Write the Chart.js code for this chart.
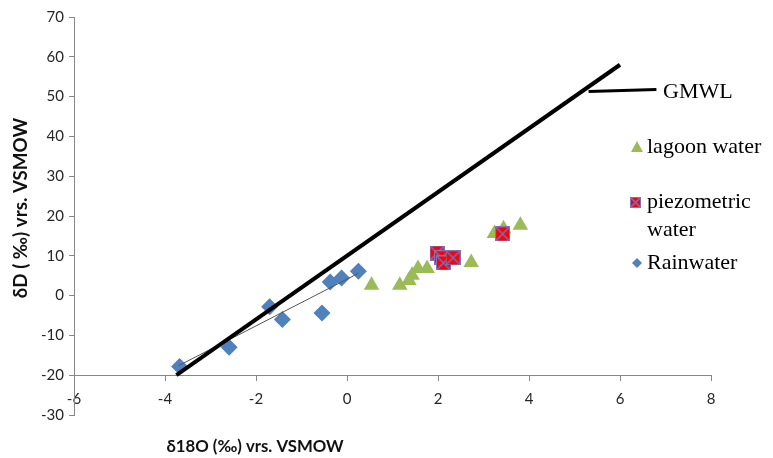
<!DOCTYPE html>
<html>
<head>
<meta charset="utf-8">
<script src="https://cdn.jsdelivr.net/npm/chart.js@4/dist/chart.umd.min.js"></script>
<style>
html,body{margin:0;padding:0;background:#fff;}
#wrap{position:relative;width:773px;height:458px;}
</style>
</head>
<body>
<div id="wrap"><canvas id="c" width="773" height="458"></canvas></div>
<script>
// ---- data ----
const gmwlX = [-3.75, 6];
const gmwlY = [-20, 58];
const gmwlLeaderX = [5.31, 6.80];
const gmwlLeaderY = [51.3, 51.8];
const rainTrendX = [-3.7, 0.25];
const rainTrendY = [-17.6, 5.6];
const lagoonX = [0.54, 1.16, 1.36, 1.43, 1.56, 1.76, 2.73, 3.24, 3.44, 3.81];
const lagoonY = [2.6, 2.6, 3.8, 5.1, 6.8, 6.8, 8.3, 15.6, 16.8, 17.7];
const piezoX = [1.98, 2.08, 2.12, 2.33, 3.42];
const piezoY = [10.7, 9.5, 8.2, 9.5, 15.5];
const rainX = [-3.68, -2.59, -1.70, -1.42, -0.55, -0.37, -0.12, 0.25];
const rainY = [-17.8, -13.0, -2.8, -6.0, -4.4, 3.4, 4.4, 6.1];
const xTicks = [-6, -4, -2, 0, 2, 4, 6, 8];
const yTicks = [-30, -20, -10, 0, 10, 20, 30, 40, 50, 60, 70];
const legendLabels = ['GMWL', 'lagoon water', 'piezometric', 'water', 'Rainwater'];
const xTitle = 'δ18O (‰) vrs. VSMOW';
const yTitle = 'δD ( ‰) vrs. VSMOW';

const pts = (xs, ys) => xs.map((x, i) => ({x: x, y: ys[i]}));

function squareMarker(size) {
  const c = document.createElement('canvas');
  c.width = size; c.height = size;
  const g = c.getContext('2d');
  g.fillStyle = '#FF0000';
  g.fillRect(0, 0, size, size);
  g.strokeStyle = '#8A6FB5';
  g.lineWidth = 1;
  g.strokeRect(0.5, 0.5, size - 1, size - 1);
  g.strokeStyle = '#6C72C4';
  g.lineWidth = 1.6;
  g.beginPath();
  g.moveTo(1, 1); g.lineTo(size - 1, size - 1);
  g.moveTo(size - 1, 1); g.lineTo(1, size - 1);
  g.stroke();
  return c;
}
const sqBig = squareMarker(15);
const sqSmall = squareMarker(11);

const axisFont = {family: 'Lato, "Liberation Sans", sans-serif', size: 15};
const gray = '#868686';

function fitFont(ctx, text, width) {
  let s = 14;
  for (; s < 20; s += 0.25) {
    ctx.font = 'bold ' + s + 'px Lato, "Liberation Sans", sans-serif';
    if (ctx.measureText(text).width >= width) break;
  }
  return ctx.font;
}

const overlay = {
  id: 'overlay',
  afterDraw(chart) {
    const ctx = chart.ctx;
    ctx.save();
    ctx.fillStyle = '#111';
    ctx.textAlign = 'center';
    ctx.textBaseline = 'middle';
    ctx.font = fitFont(ctx, xTitle, 176);
    ctx.fillText(xTitle, 255, 447);
    ctx.save();
    ctx.translate(21, 208);
    ctx.rotate(-Math.PI / 2);
    ctx.font = fitFont(ctx, yTitle, 178);
    ctx.fillText(yTitle, 0, 0);
    ctx.restore();

    // legend
    ctx.fillStyle = '#000';
    ctx.font = '22px "Liberation Serif", "Times New Roman", serif';
    ctx.textAlign = 'left';
    ctx.textBaseline = 'middle';
    ctx.fillText(legendLabels[0], 663, 92);
    ctx.fillText(legendLabels[1], 647, 147);
    ctx.fillText(legendLabels[2], 647, 202);
    ctx.fillText(legendLabels[3], 647, 230);
    ctx.fillText(legendLabels[4], 647, 263);
    ctx.fillStyle = '#9BBB59';
    ctx.beginPath();
    ctx.moveTo(637, 141); ctx.lineTo(643, 152); ctx.lineTo(631, 152); ctx.closePath();
    ctx.fill();
    ctx.drawImage(sqSmall, 630, 197);
    ctx.fillStyle = '#4F81BD';
    ctx.beginPath();
    ctx.moveTo(637, 258); ctx.lineTo(642, 263); ctx.lineTo(637, 268); ctx.lineTo(632, 263); ctx.closePath();
    ctx.fill();
    ctx.restore();
  }
};

new Chart(document.getElementById('c'), {
  type: 'scatter',
  data: {
    datasets: [
      {label: 'GMWL', data: pts(gmwlX, gmwlY), showLine: true, borderColor: '#000', borderWidth: 4,
       pointRadius: 0, order: 0, borderCapStyle: 'butt'},
      {label: 'GMWL leader', data: pts(gmwlLeaderX, gmwlLeaderY), showLine: true, borderColor: '#000', borderWidth: 3,
       pointRadius: 0, order: 0},
      {label: 'Rain trend', data: pts(rainTrendX, rainTrendY), showLine: true, borderColor: '#555', borderWidth: 1,
       pointRadius: 0, order: 1},
      {label: 'lagoon water', data: pts(lagoonX, lagoonY), pointStyle: 'triangle', pointRadius: 9,
       backgroundColor: '#9BBB59', borderColor: '#9BBB59', borderWidth: 0, order: 4},
      {label: 'piezometric water', data: pts(piezoX, piezoY), pointStyle: sqBig, pointRadius: 8,
       backgroundColor: '#FF0000', borderWidth: 0, order: 3},
      {label: 'Rainwater', data: pts(rainX, rainY), pointStyle: 'rectRot', pointRadius: 8.5,
       backgroundColor: '#4F81BD', borderColor: '#4F81BD', borderWidth: 0, order: 2}
    ]
  },
  options: {
    responsive: false,
    animation: false,
    events: [],
    layout: {padding: {left: 0, top: 17, right: 62, bottom: 43}},
    plugins: {legend: {display: false}, tooltip: {enabled: false}},
    scales: {
      x: {
        type: 'linear', min: -6, max: 8, position: {y: -20},
        afterBuildTicks: s => { s.ticks = xTicks.map(v => ({value: v})); },
        ticks: {color: '#262626', font: axisFont, padding: 10, maxRotation: 0},
        grid: {drawOnChartArea: false, drawTicks: true, tickLength: 5, color: gray},
        border: {color: gray, width: 1}
      },
      y: {
        type: 'linear', min: -30, max: 70, position: 'left',
        afterBuildTicks: s => { s.ticks = yTicks.map(v => ({value: v})); },
        afterFit: s => { s.width = 74; },
        ticks: {color: '#262626', font: axisFont, padding: 5},
        grid: {drawOnChartArea: false, drawTicks: true, tickLength: 5, color: gray},
        border: {color: gray, width: 1}
      }
    }
  },
  plugins: [overlay]
});
</script>
</body>
</html>
